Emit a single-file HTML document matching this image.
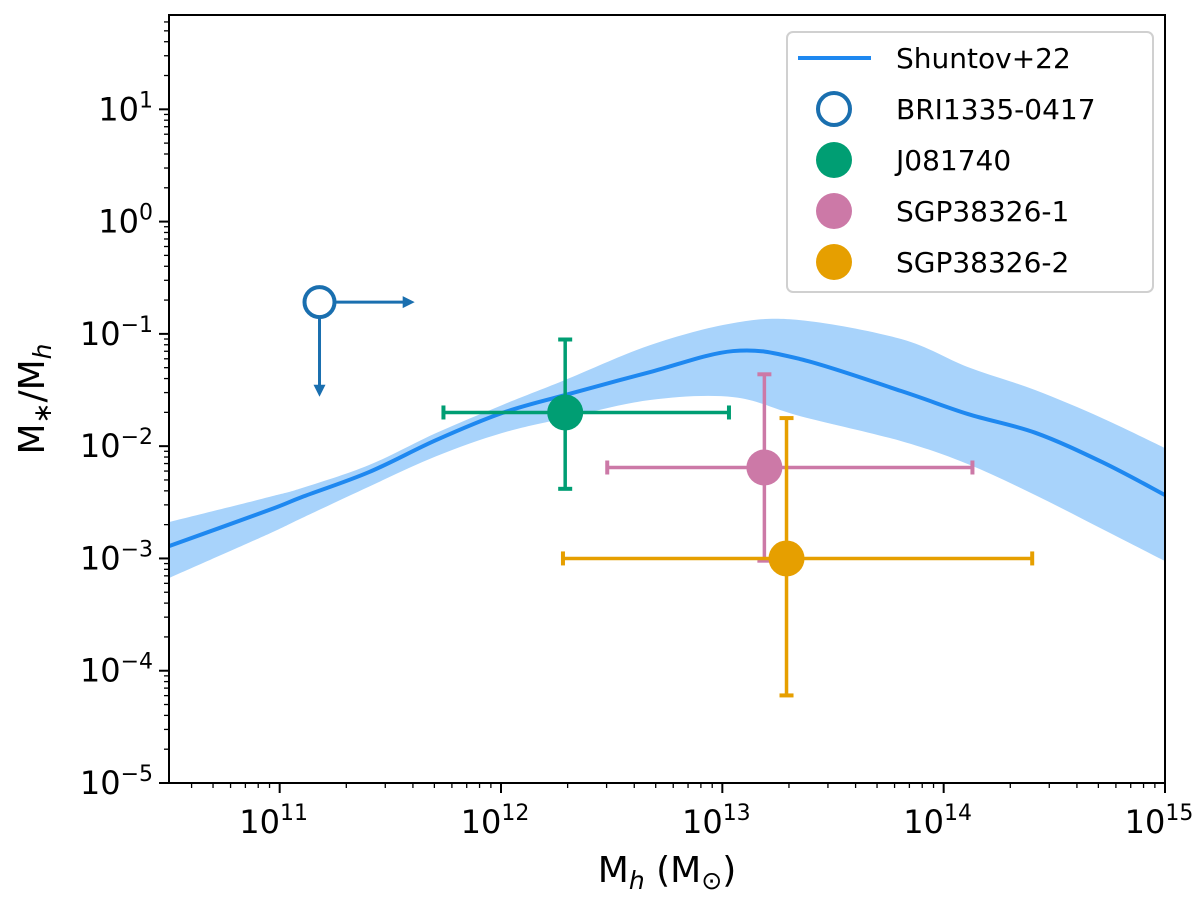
<!DOCTYPE html>
<html><head><meta charset="utf-8"><style>
body{margin:0;background:#fff}
svg text{font-family:"DejaVu Sans","Liberation Sans",sans-serif;fill:#000}
</style></head><body>
<svg id="chart" width="1200" height="900" viewBox="0 0 1200 900" xmlns="http://www.w3.org/2000/svg">
<g id="band"></g>
<g id="line"></g>
<g id="pts"></g>
<g id="axes"></g>
<g id="legend"></g>
</svg>
<script>
// Shuntov+22 curve (log10 Mh, log10 ratio)
const lineLogM = [10.5,10.952,11.101,11.404,11.707,12.005,12.289,12.674,13.049,13.351,13.808,14.110,14.413,14.716,15.0];
const lineLogR = [-2.890,-2.569,-2.453,-2.231,-1.946,-1.705,-1.545,-1.340,-1.153,-1.224,-1.509,-1.714,-1.880,-2.142,-2.435];
const bandLogM = [10.5,10.952,11.101,11.404,11.707,12.005,12.289,12.674,13.049,13.351,13.808,14.110,14.413,14.716,15.0];
const bandUpper = [-2.676,-2.453,-2.373,-2.168,-1.883,-1.634,-1.411,-1.100,-0.904,-0.877,-1.046,-1.296,-1.500,-1.750,-2.017];
const bandLower = [-3.175,-2.780,-2.640,-2.360,-2.090,-1.883,-1.750,-1.589,-1.563,-1.732,-1.955,-2.160,-2.435,-2.738,-3.023];
// points
const ptNames = ["J081740","SGP38326-1","SGP38326-2"];
const ptColors = ["#009E73","#CC79A7","#E69F00"];
const ptLogM = [12.29,13.19,13.29];
const ptLogR = [-1.70,-2.19,-3.00];
const ptXlo = [11.74,12.48,12.28];
const ptXhi = [13.03,14.13,14.40];
const ptYlo = [-2.38,-3.02,-4.22];
const ptYhi = [-1.05,-1.36,-1.75];
const briLogM = 11.18, briLogR = -0.717, briArrowX = 11.61, briArrowY = -1.56;
const xTicks = [11,12,13,14,15];
const yTicks = [1,0,-1,-2,-3,-4,-5];

const L=169,R=1165,T=15,B=783, xmin=10.5,xmax=15, ymin=-5,ymax=1.84;
const X=v=>L+(v-xmin)/(xmax-xmin)*(R-L);
const Y=v=>B-(v-ymin)/(ymax-ymin)*(B-T);
const NS="http://www.w3.org/2000/svg";
function mk(tag,attrs,parent){const e=document.createElementNS(NS,tag);for(const k in attrs)e.setAttribute(k,attrs[k]);parent.appendChild(e);return e;}
function smooth(pts,move){
 let d=(move?"M":"L")+pts[0][0]+","+pts[0][1];
 for(let i=0;i<pts.length-1;i++){
  const p0=pts[Math.max(0,i-1)],p1=pts[i],p2=pts[i+1],p3=pts[Math.min(pts.length-1,i+2)];
  const c1=[p1[0]+(p2[0]-p0[0])/6,p1[1]+(p2[1]-p0[1])/6];
  const c2=[p2[0]-(p3[0]-p1[0])/6,p2[1]-(p3[1]-p1[1])/6];
  d+=`C${c1[0]},${c1[1]} ${c2[0]},${c2[1]} ${p2[0]},${p2[1]}`;
 }
 return d;
}

// band
const up=bandLogM.map((m,i)=>[X(m),Y(bandUpper[i])]);
const lo=bandLogM.map((m,i)=>[X(m),Y(bandLower[i])]).reverse();
const bp=mk("path",{d:smooth(up,true)+smooth(lo,false)+"Z",fill:"#a8d3fb"},document.getElementById("band"));


const lp=mk("path",{d:smooth(lineLogM.map((m,i)=>[X(m),Y(lineLogR[i])]),true),fill:"none",stroke:"#1e88f0","stroke-width":4},document.getElementById("line"));



const P=document.getElementById("pts");
// BRI
const bg=mk("g",{},P);


const bc="#1a6faf";
mk("line",{x1:X(briLogM),y1:Y(briLogR),x2:X(briArrowX)-8,y2:Y(briLogR),stroke:bc,"stroke-width":3},bg);
mk("polygon",{points:`${X(briArrowX)},${Y(briLogR)} ${X(briArrowX)-12},${Y(briLogR)-6} ${X(briArrowX)-12},${Y(briLogR)+6}`,fill:bc},bg);
mk("line",{x1:X(briLogM),y1:Y(briLogR),x2:X(briLogM),y2:Y(briArrowY)-8,stroke:bc,"stroke-width":3},bg);
mk("polygon",{points:`${X(briLogM)},${Y(briArrowY)} ${X(briLogM)-6},${Y(briArrowY)-12} ${X(briLogM)+6},${Y(briArrowY)-12}`,fill:bc},bg);
mk("circle",{cx:X(briLogM),cy:Y(briLogR),r:15,fill:"#fff",stroke:bc,"stroke-width":4},bg);
ptNames.forEach((n,i)=>{
 const g=mk("g",{},P);
 
 
 const c=ptColors[i],cx=X(ptLogM[i]),cy=Y(ptLogR[i]);
 mk("line",{x1:X(ptXlo[i]),y1:cy,x2:X(ptXhi[i]),y2:cy,stroke:c,"stroke-width":3.5},g);
 mk("line",{x1:cx,y1:Y(ptYlo[i]),x2:cx,y2:Y(ptYhi[i]),stroke:c,"stroke-width":3.5},g);
 [X(ptXlo[i]),X(ptXhi[i])].forEach(x=>mk("line",{x1:x,y1:cy-7,x2:x,y2:cy+7,stroke:c,"stroke-width":4},g));
 [Y(ptYlo[i]),Y(ptYhi[i])].forEach(y=>mk("line",{x1:cx-7,y1:y,x2:cx+7,y2:y,stroke:c,"stroke-width":4},g));
 mk("circle",{cx,cy,r:18,fill:c},g);
});

// axes
const A=document.getElementById("axes");
mk("rect",{x:L,y:T,width:R-L,height:B-T,fill:"none",stroke:"#000","stroke-width":2},A);
for(let dcd=10;dcd<=15;dcd++)for(let k=1;k<10;k++){
 const v=dcd+Math.log10(k); if(v<xmin-1e-6||v>xmax+1e-6)continue;
 mk("line",{x1:X(v),y1:B,x2:X(v),y2:B+(k==1?10:5),stroke:"#000","stroke-width":k==1?2:1.3},A);
}
for(let dcd=-5;dcd<=1;dcd++)for(let k=1;k<10;k++){
 const v=dcd+Math.log10(k); if(v>ymax)continue;
 mk("line",{x1:L,y1:Y(v),x2:L-(k==1?10:5),y2:Y(v),stroke:"#000","stroke-width":k==1?2:1.3},A);
}
xTicks.forEach(t=>{
 const tx=mk("text",{x:X(t)-6,y:B+50,"font-size":32,"text-anchor":"middle"},A);
 
 
 tx.innerHTML=`10<tspan font-size="22" dy="-13">${t}</tspan>`;
});
yTicks.forEach(t=>{
 const tx=mk("text",{x:L-16,y:Y(t)+11,"font-size":32,"text-anchor":"end"},A);
 
 
 const s=t<0?"\u2212"+(-t):""+t;
 tx.innerHTML=`10<tspan font-size="22" dy="-13">${s}</tspan>`;
});
const xt=mk("text",{x:667,y:882,"font-size":36,"text-anchor":"middle"},A);


xt.innerHTML='M<tspan font-style="italic" font-size="25" dy="7">h</tspan><tspan dy="-7"> (M</tspan><tspan font-size="25" dy="7">⊙</tspan><tspan dy="-7">)</tspan>';
const yt=mk("text",{x:0,y:0,"font-size":36,"text-anchor":"middle",transform:"translate(44,399) rotate(-90)"},A);


yt.innerHTML='M<tspan font-size="25" dy="7">∗</tspan><tspan dy="-7">/M</tspan><tspan font-style="italic" font-size="25" dy="7">h</tspan>';

// legend
const G=document.getElementById("legend");
mk("rect",{x:787,y:32,width:366,height:260,rx:6,fill:"#fff",stroke:"#d0d0d0","stroke-width":2,"fill-opacity":0.85},G);
const legNames=["Shuntov+22","BRI1335-0417"].concat(ptNames);
const legY=[58,109,160,211,262];
legNames.forEach((n,i)=>{
 const g=mk("g",{},G);
 
 
 if(i==0)mk("line",{x1:798,y1:legY[i],x2:871,y2:legY[i],stroke:"#1e88f0","stroke-width":4},g);
 else if(i==1)mk("circle",{cx:834,cy:legY[i],r:16,fill:"#fff",stroke:bc,"stroke-width":4},g);
 else mk("circle",{cx:834,cy:legY[i],r:18,fill:ptColors[i-2]},g);
 const t=mk("text",{x:896,y:legY[i]+10,"font-size":28},g);
 t.textContent=n;
});
</script>
</body></html>
